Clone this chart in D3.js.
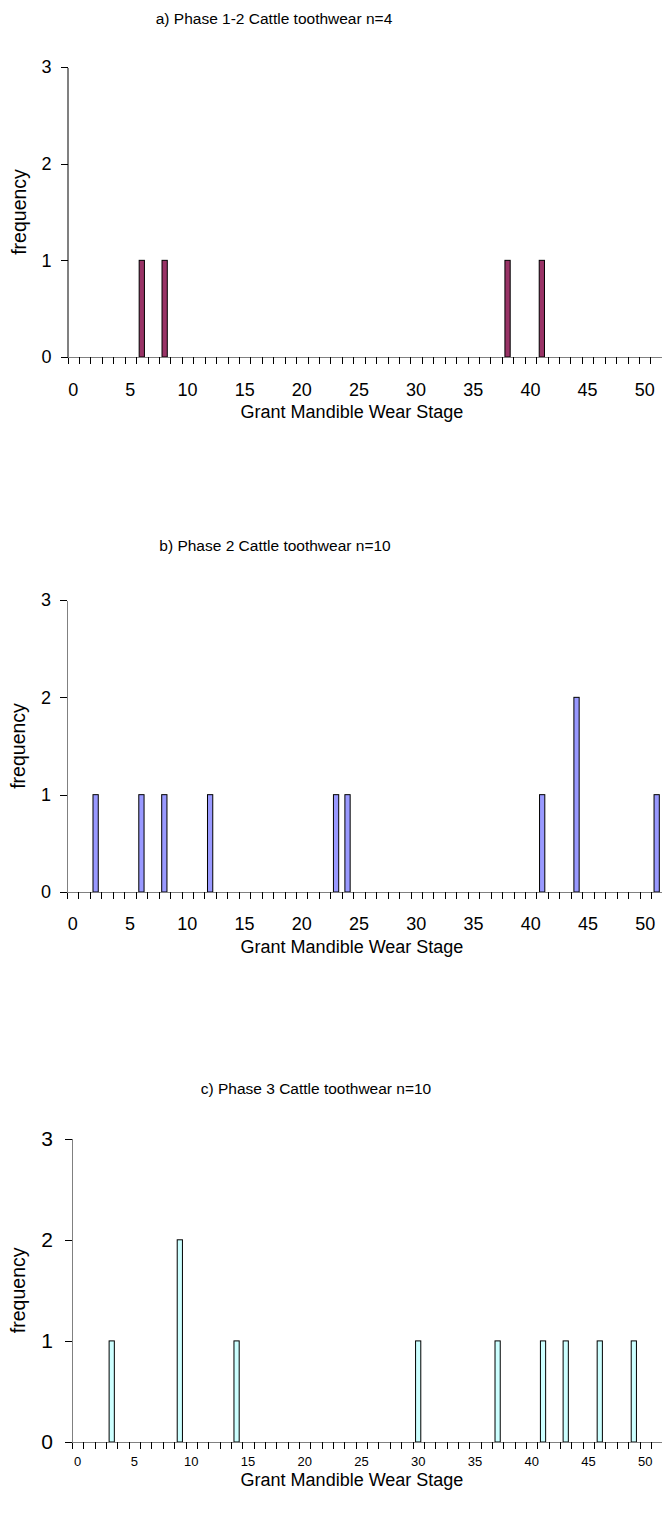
<!DOCTYPE html>
<html lang="en">
<head>
  <meta charset="UTF-8">
  <title>Cattle toothwear</title>
  <script src="https://d3js.org/d3.v7.min.js"></script>
  <style>
    body{margin:0;background:#fff;font-family:"Liberation Sans",Arial,Helvetica,sans-serif}
    svg{display:block}
    .bar{stroke:#000;stroke-width:1}
    .axis path,.axis line{shape-rendering:crispEdges}
    .axis .domain{stroke:#808080;stroke-width:1.3}
    .axis line{stroke:#000}
    text{fill:#000}
  </style>
</head>
<body>
<div id="chart"></div>
<script>
/* --- data --- */
const stageCount=52;                       // categories 0..51
const xTickLabels=[0,5,10,15,20,25,30,35,40,45,50];
const yTicks=[0,1,2,3];

const titleA="a) Phase 1-2 Cattle toothwear n=4";
const stagesA=[6,8,38,41];
const freqA  =[1,1,1,1];

const titleB="b) Phase 2 Cattle toothwear n=10";
const stagesB=[2,6,8,12,23,24,41,44,51];
const freqB  =[1,1,1,1,1,1,1,2,1];

const titleC="c) Phase 3 Cattle toothwear n=10";
const stagesC=[3,9,14,30,37,41,43,46,49];
const freqC  =[1,2,1,1,1,1,1,1,1];

const xTitle="Grant Mandible Wear Stage";
const yTitle="frequency";

/* --- layout of each panel --- */
const panels=[
  {title:titleA,stages:stagesA,freq:freqA,fill:"#993366",
   x0:67.5,step:11.43,yTop:67,yBot:357,titleX:274,titleY:24,
   xLabY:396,xLabSize:18,yLabSize:18,xTitleY:418,yTitleX:19},
  {title:titleB,stages:stagesB,freq:freqB,fill:"#9999ff",
   x0:67,step:11.45,yTop:600,yBot:892,titleX:275,titleY:551,
   xLabY:930,xLabSize:18,yLabSize:18,xTitleY:953,yTitleX:18},
  {title:titleC,stages:stagesC,freq:freqC,fill:"#ccffff",
   x0:72,step:11.35,yTop:1138.7,yBot:1442,titleX:316,titleY:1094,
   xLabY:1466,xLabSize:13,yLabSize:21,xTitleY:1486,yTitleX:17.5}
];

const W=662,H=1526;
const svg=d3.select("#chart").append("svg").attr("width",W).attr("height",H);

panels.forEach(p=>{
  const g=svg.append("g");
  const x1=p.x0+stageCount*p.step;
  const band=d3.scaleBand().domain(d3.range(stageCount)).range([p.x0,x1]).padding(0);
  const lin=d3.scaleLinear().domain([0,stageCount]).range([p.x0,x1]);
  const y=d3.scaleLinear().domain([0,3]).range([p.yBot,p.yTop]);
  const bw=band.bandwidth()*0.46;

  /* title */
  g.append("text").attr("x",p.titleX).attr("y",p.titleY)
   .attr("text-anchor","middle").style("font-size","15.5px").text(p.title);

  /* bars */
  g.selectAll("rect.bar").data(p.stages.map((s,i)=>({s,f:p.freq[i]})))
   .join("rect").attr("class","bar")
   .attr("x",d=>band(d.s)+band.bandwidth()/2-bw/2)
   .attr("y",d=>y(d.f))
   .attr("width",bw)
   .attr("height",d=>y(0)-y(d.f))
   .attr("fill",p.fill);

  /* x axis: ticks between categories */
  const xa=g.append("g").attr("class","axis")
   .attr("transform",`translate(0,${p.yBot})`)
   .call(d3.axisBottom(lin).tickValues(d3.range(0,stageCount+1))
          .tickFormat("").tickSize(7).tickSizeOuter(0));
  xa.select(".domain").attr("d",`M${p.x0},0.5H${W}`);

  /* x tick labels at category centres */
  g.selectAll("text.xl").data(xTickLabels).join("text").attr("class","xl")
   .attr("x",d=>band(d)+band.bandwidth()/2).attr("y",p.xLabY)
   .attr("text-anchor","middle").style("font-size",p.xLabSize+"px").text(d=>d);

  /* y axis */
  const ya=g.append("g").attr("class","axis")
   .attr("transform",`translate(${p.x0},0)`)
   .call(d3.axisLeft(y).tickValues(yTicks).tickFormat(d3.format("d"))
          .tickSize(7).tickSizeOuter(0).tickPadding(p.yLabSize>19?12:9));
  ya.selectAll("text").style("font-size",p.yLabSize+"px")
    .style("font-family","'Liberation Sans',Arial,sans-serif").attr("fill","#000");

  /* axis titles */
  g.append("text").attr("x",352).attr("y",p.xTitleY)
   .attr("text-anchor","middle").style("font-size","18px").text(xTitle);
  g.append("text")
   .attr("transform",`translate(${p.yTitleX+7},${(p.yTop+p.yBot)/2}) rotate(-90)`)
   .attr("text-anchor","middle").style("font-size","19.5px").text(yTitle);
});
</script>
</body>
</html>
